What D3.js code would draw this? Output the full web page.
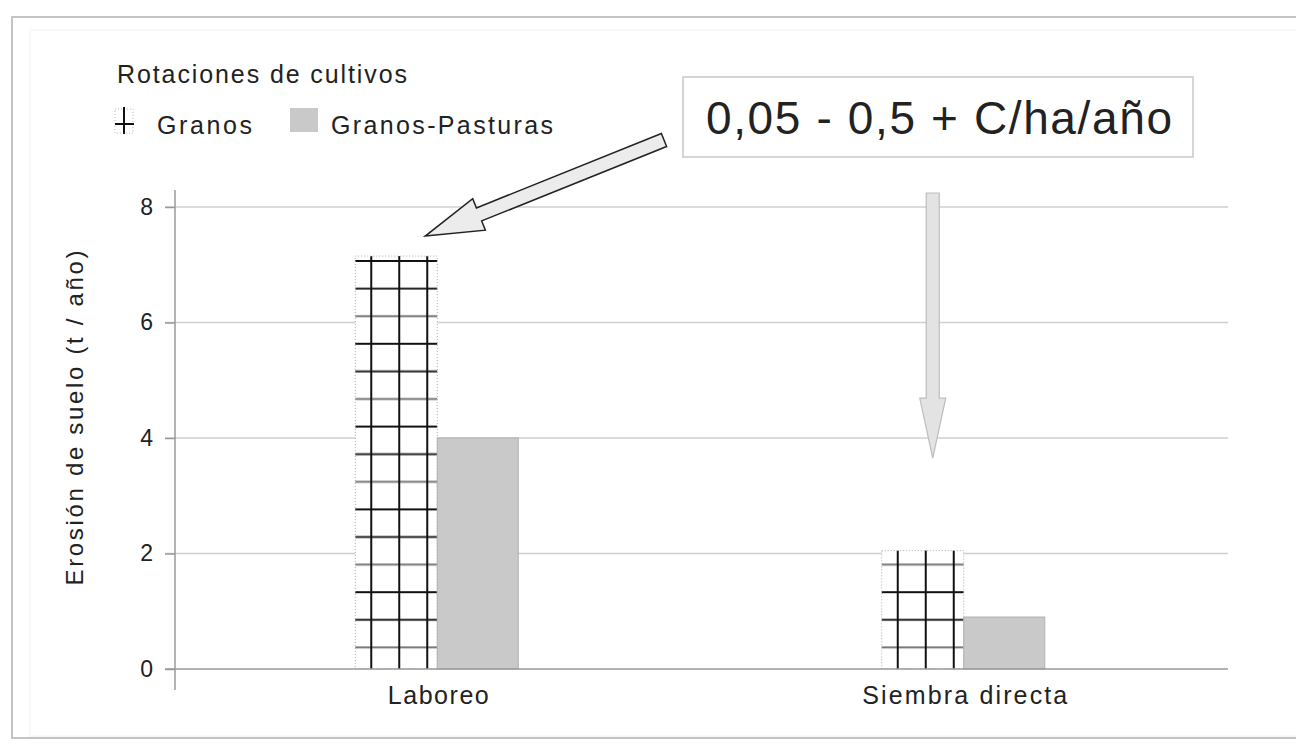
<!DOCTYPE html>
<html>
<head>
<meta charset="utf-8">
<script src="https://cdn.jsdelivr.net/npm/d3@7"></script>
<style>
  body { margin: 0; background: #fff; }
  svg { display: block; }
  text { font-family: "Liberation Sans", Arial, sans-serif; fill: #222; }
  .grid line { stroke: #cfcfcf; stroke-width: 1.5px; }
</style>
</head>
<body>
<div id="chart"></div>
<script>
const categories = ['Laboreo', 'Siembra directa'];
const series = ['Granos', 'Granos-Pasturas'];
const granos = [7.15, 2.05];
const granosPasturas = [4.0, 0.9];
const yTicks = [0, 2, 4, 6, 8];

const width = 1296, height = 744;
const svg = d3.select('#chart').append('svg')
  .attr('width', width).attr('height', height);

// outer frame
svg.append('rect').attr('x', 12).attr('y', 17).attr('width', 1300).attr('height', 721)
  .attr('fill', 'none').attr('stroke', '#c4c4c4').attr('stroke-width', 2);
svg.append('rect').attr('x', 30).attr('y', 30).attr('width', 1280).attr('height', 706)
  .attr('fill', 'none').attr('stroke', '#f2f2f2').attr('stroke-width', 1);

const y = d3.scaleLinear().domain([0, 8]).range([669, 207]);
const x0 = d3.scaleBand().domain(categories).range([175, 1228]);
const x1 = d3.scaleBand().domain(series).range([-83, 81]);

// gridlines
svg.append('g').attr('class', 'grid')
  .selectAll('line').data(yTicks.filter(d => d > 0)).join('line')
  .attr('x1', 165).attr('x2', 1228)
  .attr('y1', d => y(d)).attr('y2', d => y(d));

// hatch pattern for Granos (one per bar so vertical lines start from the bar edge)
const defs = svg.append('defs');
const rows = ['#111', '#222', '#777'];
categories.forEach((c, i) => {
  const p = defs.append('pattern')
    .attr('id', 'hatch' + i)
    .attr('patternUnits', 'userSpaceOnUse')
    .attr('x', x0(c) + x0.bandwidth() / 2 + x1('Granos') + 15)
    .attr('y', 261 - 1)
    .attr('width', 28).attr('height', 27.6 * 3);
  p.append('rect').attr('width', 28).attr('height', 27.6 * 3).attr('fill', '#fff');
  rows.forEach((col, k) => {
    p.append('line').attr('x1', 0).attr('x2', 28)
      .attr('y1', 1 + k * 27.6).attr('y2', 1 + k * 27.6)
      .attr('stroke', col).attr('stroke-width', 2);
  });
  p.append('line').attr('x1', 1).attr('x2', 1).attr('y1', 0).attr('y2', 27.6 * 3)
    .attr('stroke', '#111').attr('stroke-width', 2);
});

// bars
const bars = svg.append('g');
categories.forEach((c, i) => {
  const cx = x0(c) + x0.bandwidth() / 2;
  bars.append('rect')
    .attr('x', cx + x1('Granos'))
    .attr('y', y(granos[i]))
    .attr('width', x1.bandwidth())
    .attr('height', y(0) - y(granos[i]))
    .attr('fill', `url(#hatch${i})`)
    .attr('stroke', '#aaa').attr('stroke-width', 1).attr('stroke-dasharray', '1,2');
  bars.append('rect')
    .attr('x', cx + x1('Granos-Pasturas'))
    .attr('y', y(granosPasturas[i]))
    .attr('width', x1.bandwidth() - 1)
    .attr('height', y(0) - y(granosPasturas[i]))
    .attr('fill', '#c9c9c9')
    .attr('stroke', '#b0b0b0').attr('stroke-width', 1);
});

// baseline
svg.append('line').attr('x1', 165).attr('x2', 1228)
  .attr('y1', y(0)).attr('y2', y(0))
  .attr('stroke', '#9a9a9a').attr('stroke-width', 1.5);

// y axis
const yAxis = svg.append('g').attr('transform', 'translate(175,0)')
  .call(d3.axisLeft(y).tickValues(yTicks).tickSize(10).tickPadding(12).tickFormat(d3.format('d')));
yAxis.select('.domain').attr('d', 'M0,190V690').attr('stroke', '#9a9a9a').attr('stroke-width', 1.5);
yAxis.selectAll('.tick line').attr('stroke', '#9a9a9a').attr('stroke-width', 1.5);
yAxis.selectAll('.tick text')
  .style('font-family', '"Liberation Sans", Arial, sans-serif')
  .style('font-size', '23px').attr('fill', '#222');

svg.append('text')
  .attr('transform', 'translate(83,418) rotate(-90)')
  .attr('text-anchor', 'middle')
  .attr('textLength', 335).attr('lengthAdjust', 'spacing')
  .style('font-size', '24px')
  .text('Erosión de suelo (t / año)');

// category labels
const catWidths = [101, 205];
categories.forEach((c, i) => {
  svg.append('text')
    .attr('x', x0(c) + x0.bandwidth() / 2)
    .attr('y', 704)
    .attr('text-anchor', 'middle')
    .attr('textLength', catWidths[i]).attr('lengthAdjust', 'spacing')
    .style('font-size', '25px')
    .text(c);
});

// legend
const lg = svg.append('g');
lg.append('text').attr('x', 117).attr('y', 83)
  .attr('textLength', 290).attr('lengthAdjust', 'spacing')
  .style('font-size', '25px').text('Rotaciones de cultivos');
lg.append('rect').attr('x', 115).attr('y', 109).attr('width', 18).attr('height', 24)
  .attr('fill', '#fff').attr('stroke', '#bbb').attr('stroke-dasharray', '1,2');
lg.append('line').attr('x1', 124).attr('x2', 124).attr('y1', 107).attr('y2', 134)
  .attr('stroke', '#111').attr('stroke-width', 2);
lg.append('line').attr('x1', 115).attr('x2', 134).attr('y1', 124).attr('y2', 124)
  .attr('stroke', '#111').attr('stroke-width', 2);
lg.append('text').attr('x', 157).attr('y', 134)
  .attr('textLength', 95).attr('lengthAdjust', 'spacing')
  .style('font-size', '25px').text(series[0]);
lg.append('rect').attr('x', 290).attr('y', 108).attr('width', 28).attr('height', 24)
  .attr('fill', '#c9c9c9');
lg.append('text').attr('x', 331).attr('y', 134)
  .attr('textLength', 222).attr('lengthAdjust', 'spacing')
  .style('font-size', '25px').text(series[1]);

// annotation box
svg.append('rect').attr('x', 683).attr('y', 77).attr('width', 510).attr('height', 80)
  .attr('fill', '#fff').attr('stroke', '#c8c8c8').attr('stroke-width', 1.5);
svg.append('text').attr('x', 706).attr('y', 134)
  .attr('textLength', 466).attr('lengthAdjust', 'spacing')
  .style('font-size', '46px').attr('fill', '#1a1a1a')
  .text('0,05 - 0,5 + C/ha/año');

// block arrows
function blockArrow(x1p, y1p, x2p, y2p, shaft, head, headLen) {
  const dx = x2p - x1p, dy = y2p - y1p;
  const L = Math.hypot(dx, dy);
  const ux = dx / L, uy = dy / L, nx = -uy, ny = ux;
  const bx = x2p - ux * headLen, by = y2p - uy * headLen;
  const pts = [
    [x1p + nx * shaft / 2, y1p + ny * shaft / 2],
    [bx + nx * shaft / 2, by + ny * shaft / 2],
    [bx + nx * head / 2, by + ny * head / 2],
    [x2p, y2p],
    [bx - nx * head / 2, by - ny * head / 2],
    [bx - nx * shaft / 2, by - ny * shaft / 2],
    [x1p - nx * shaft / 2, y1p - ny * shaft / 2]
  ];
  return 'M' + pts.map(p => p.join(',')).join('L') + 'Z';
}
const xLab = x0('Laboreo') + x0.bandwidth() / 2;
const xSd = x0('Siembra directa') + x0.bandwidth() / 2;
svg.append('path')
  .attr('d', blockArrow(664, 140, xLab - 13, y(granos[0]) - 20, 14, 34, 58))
  .attr('fill', '#ececec').attr('stroke', '#222').attr('stroke-width', 1.5)
  .attr('stroke-linejoin', 'miter');
svg.append('path')
  .attr('d', blockArrow(xSd - 32, 193, xSd - 32, y(3.65), 13, 26, 60))
  .attr('fill', '#e3e3e3').attr('stroke', '#bdbdbd').attr('stroke-width', 1.2);
</script>
</body>
</html>
